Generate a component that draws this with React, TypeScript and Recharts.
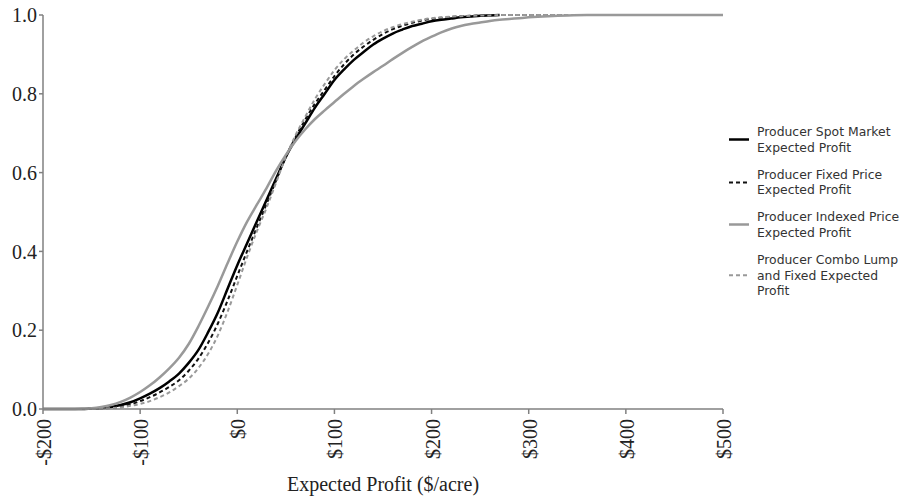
import { LineChart, Line, XAxis, YAxis, Label } from "recharts";

// expected profit ($/acre)
const profits = [
  -200, -190, -180, -170, -160, -150, -140, -130, -120, -110, -100, -90, -80,
  -70, -60, -50, -40, -30, -20, -10, 0, 10, 20, 30, 40, 50, 60, 70, 80, 90, 100,
  110, 120, 130, 140, 150, 160, 170, 180, 190, 200, 210, 220, 230, 240, 250,
  260, 270, 280, 290, 300, 320, 340, 360, 380, 400, 450, 500,
];

const spotMarket = [
  0, 0, 0, 0, 0, 0.001, 0.002, 0.005, 0.01, 0.017, 0.027, 0.039, 0.053, 0.07,
  0.09, 0.117, 0.15, 0.195, 0.245, 0.305, 0.365, 0.42, 0.475, 0.53, 0.585,
  0.64, 0.685, 0.725, 0.765, 0.8, 0.835, 0.862, 0.886, 0.906, 0.925, 0.94,
  0.953, 0.963, 0.972, 0.978, 0.984, 0.988, 0.991, 0.994, 0.996, 0.998, 0.999,
  1, null, null, null, null, null, null, null, null, null, null,
];

const fixedPrice = [
  0, 0, 0, 0, 0, 0.0005, 0.001, 0.003, 0.006, 0.012, 0.02, 0.03, 0.042, 0.056,
  0.073, 0.097, 0.128, 0.168, 0.217, 0.275, 0.338, 0.4, 0.46, 0.52, 0.58,
  0.64, 0.69, 0.735, 0.775, 0.81, 0.845, 0.875, 0.9, 0.92, 0.937, 0.952,
  0.964, 0.973, 0.98, 0.986, 0.99, 0.993, 0.995, 0.997, 0.998, 0.999, 1, 1, 1,
  1, 1, 1, 1, null, null, null, null, null,
];

const indexedPrice = [
  0, 0, 0, 0, 0.001, 0.002, 0.005, 0.01, 0.018, 0.029, 0.043, 0.06, 0.08,
  0.103, 0.13, 0.165, 0.21, 0.26, 0.313, 0.37, 0.425, 0.475, 0.518, 0.56,
  0.605, 0.645, 0.68, 0.71, 0.736, 0.758, 0.779, 0.8, 0.82, 0.838, 0.855,
  0.871, 0.888, 0.904, 0.919, 0.933, 0.945, 0.956, 0.965, 0.972, 0.977, 0.981,
  0.985, 0.988, 0.99, 0.992, 0.994, 0.997, 0.999, 1, 1, 1, 1, 1,
];

const comboLumpFixed = [
  0, 0, 0, 0, 0, 0, 0.001, 0.002, 0.004, 0.008, 0.013, 0.02, 0.03, 0.042,
  0.058, 0.077, 0.104, 0.14, 0.187, 0.247, 0.315, 0.385, 0.45, 0.51, 0.575,
  0.64, 0.695, 0.742, 0.787, 0.825, 0.86, 0.888, 0.91, 0.93, 0.946, 0.959,
  0.969, 0.977, 0.983, 0.988, 0.992, 0.994, 0.996, 0.997, 0.998, 0.999, 0.999,
  1, 1, 1, 1, 1, 1, 1, null, null, null, null,
];

const xTicks = [-200, -100, 0, 100, 200, 300, 400, 500];
const yTicks = [0, 0.2, 0.4, 0.6, 0.8, 1];

const data = profits.map((p, i) => ({
  profit: p,
  spot: spotMarket[i],
  fixed: fixedPrice[i],
  indexed: indexedPrice[i],
  combo: comboLumpFixed[i],
}));

const series = [
  { key: "spot", lines: ["Producer Spot Market", "Expected Profit"], color: "#000", width: 2.5, dash: undefined },
  { key: "fixed", lines: ["Producer Fixed Price", "Expected Profit"], color: "#111", width: 2, dash: "4 3" },
  { key: "indexed", lines: ["Producer Indexed Price", "Expected Profit"], color: "#999", width: 2.5, dash: undefined },
  { key: "combo", lines: ["Producer Combo Lump", "and Fixed Expected", "Profit"], color: "#999", width: 2, dash: "4 3" },
];

const serif = "'Liberation Serif', 'Times New Roman', serif";
const LH = 15.5;

const money = (v: number) => (v < 0 ? `-$${Math.abs(v)}` : `$${v}`);

function XTick(props: any) {
  const { x, y, payload } = props;
  return (
    <text
      transform={`translate(${x + 1},${y + 3}) rotate(-90)`}
      textAnchor="end"
      dominantBaseline="central"
      fontFamily={serif}
      fontSize={20}
      fill="#222"
    >
      {money(payload.value)}
    </text>
  );
}

function LegendBox() {
  const tops = [124, 166.5, 209, 252];
  return (
    <div style={{ position: "absolute", left: 728, top: 0, width: 172, fontFamily: "'DejaVu Sans', sans-serif", fontSize: 12.4, color: "#333" }}>
      {series.map((s, i) => {
        const mid = (s.lines.length * LH) / 2;
        return (
          <div key={s.key} style={{ position: "absolute", left: 0, top: tops[i], width: 172 }}>
            <svg width={22} height={s.lines.length * LH} style={{ position: "absolute", left: 0, top: 0 }}>
              <line x1={1} x2={21} y1={mid} y2={mid} stroke={s.color} strokeWidth={s.width} strokeDasharray={s.dash} />
            </svg>
            <div style={{ position: "absolute", left: 29, top: 0, lineHeight: `${LH}px`, whiteSpace: "nowrap" }}>
              {s.lines.map((l) => (
                <div key={l}>{l}</div>
              ))}
            </div>
          </div>
        );
      })}
    </div>
  );
}

export default function App() {
  return (
    <div style={{ position: "absolute", left: 0, top: 0, width: 900, height: 497, background: "#fff" }}>
      <LineChart width={900} height={497} data={data} margin={{ top: 15, right: 177, bottom: 0, left: 0 }}>
        <XAxis
          dataKey="profit"
          type="number"
          domain={[-200, 500]}
          ticks={xTicks}
          tick={<XTick />}
          tickSize={5}
          height={88}
          stroke="#808080"
          strokeWidth={1.5}
          interval={0}
        >
          <Label
            value="Expected Profit ($/acre)"
            position="insideBottom"
            offset={6}
            style={{ fontFamily: serif, fontSize: 20, fill: "#222" }}
          />
        </XAxis>
        <YAxis
          type="number"
          domain={[0, 1]}
          ticks={yTicks}
          tickFormatter={(v: number) => v.toFixed(1)}
          width={43}
          tickSize={4}
          stroke="#808080"
          strokeWidth={1.5}
          tick={{ fontFamily: serif, fontSize: 20, fill: "#222" }}
        />
        {series.map((s) => (
          <Line
            key={s.key}
            dataKey={s.key}
            type="monotone"
            stroke={s.color}
            strokeWidth={s.width}
            strokeDasharray={s.dash}
            dot={false}
            activeDot={false}
            isAnimationActive={false}
          />
        ))}
      </LineChart>
      <LegendBox />
    </div>
  );
}
